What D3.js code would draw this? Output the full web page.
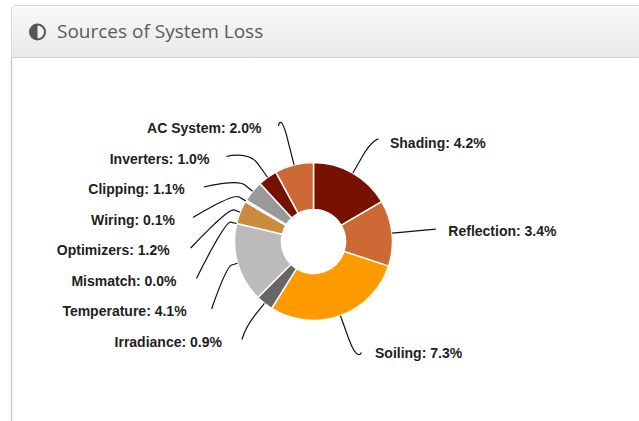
<!DOCTYPE html>
<html><head><meta charset="utf-8">
<script src="https://cdn.jsdelivr.net/npm/d3@7"></script>
<style>html,body{margin:0;padding:0;background:#fff;overflow:hidden}svg{display:block}</style>
</head><body><svg id="c" width="639" height="421"></svg>
<script>
const categories=["Shading","Reflection","Soiling","Irradiance","Temperature","Mismatch","Optimizers","Wiring","Clipping","Inverters","AC System"];
const lossValues=[4.2,3.4,7.3,0.9,4.1,0.0,1.2,0.1,1.1,1.0,2.0];
const sliceColors=["#771200","#cc6935","#ff9b00","#666666","#bbbbbb","#ffc85a","#cc8b3c","#ffc85a","#999999","#771200","#cc6935"];
const titleText="Sources of System Loss";

const svg=d3.select("#c");
const defs=svg.append("defs");
const g=defs.append("linearGradient").attr("id","hd").attr("x1",0).attr("x2",0).attr("y1",0).attr("y2",1);
g.append("stop").attr("offset",0).attr("stop-color","#f9f9f9");
g.append("stop").attr("offset",1).attr("stop-color","#e9e9e9");

// panel
svg.append("path").attr("d","M11.5,421V10a4.5,4.5 0 0 1 4.5,-4.5H640").attr("fill","none").attr("stroke","#d8d8d8");
svg.append("path").attr("d","M12,57V10a4,4 0 0 1 4,-4H640V57Z").attr("fill","url(#hd)");
svg.append("line").attr("x1",12).attr("x2",639).attr("y1",57.5).attr("y2",57.5).attr("stroke","#cfcfcf");
svg.append("line").attr("x1",11.5).attr("x2",11.5).attr("y1",57).attr("y2",421).attr("stroke","#cccccc").attr("stroke-width",1.5);
// icon
const ic=svg.append("g").attr("transform","translate(37.5,32)");
ic.append("circle").attr("r",8.5).attr("fill","#555");
ic.append("path").attr("d",d3.arc()({innerRadius:0,outerRadius:6.5,startAngle:0,endAngle:Math.PI})).attr("fill","#f2f2f2");
svg.append("text").attr("x",57).attr("y",38).attr("font-family","'Open Sans'").attr("font-size",19).attr("fill","#5a5a5a").text(titleText);

// donut
const cx=313.5,cy=241.5,R=79,r0=32;
const pie=d3.pie().sort(null).value(d=>d)(lossValues);
const arc=d3.arc().innerRadius(r0).outerRadius(R);
const chart=svg.append("g").attr("transform",`translate(${cx},${cy})`);
chart.selectAll("path.s").data(pie).join("path").attr("class","s").attr("d",arc)
  .attr("fill",(d,i)=>sliceColors[i]).attr("stroke","#fff").attr("stroke-width",1.5).attr("stroke-linejoin","round")
  .filter(d=>d.value===0).attr("stroke","none");

// labels & connectors
const polar=(a,rad)=>[Math.sin(a)*rad,-Math.cos(a)*rad];
const circA=123,circB=120.5,rightYR=118;
const labelNudge=[-1,0,1,-1,-6,-1,-2,1,0,2,2];
const labelNudgeY=[2,0,-1,0,0,0,0,0,0,0,0];
const leftIdx=pie.map((d,i)=>i).filter(i=>(pie[i].startAngle+pie[i].endAngle)/2>Math.PI);
const rowTop=-115.5,rowStep=30.5;
const layer=svg.append("g").attr("transform",`translate(${cx},${cy})`);
pie.forEach((d,i)=>{
  const a=(d.startAngle+d.endAngle)/2, left=a>Math.PI;
  const y=left? rowTop+rowStep*(leftIdx.length-1-leftIdx.indexOf(i)) : -Math.cos(a)*rightYR;
  const x=(left?-1:1)*circA*Math.sqrt(Math.max(0,1-y*y/(circB*circB)));
  const breakR=R+6+24*Math.pow(Math.abs(Math.cos(a)),4);
  const t=polar(a,R), b=polar(a,breakR);
  const c2=[2*b[0]-t[0],2*b[1]-t[1]];
  const start=[x,y];
  layer.append("path").attr("fill","none").attr("stroke","#111").attr("stroke-width",1.2)
    .attr("d",`M${start}C${start} ${c2} ${b}L${t}`);
  layer.append("text").attr("x",x+(left?-19:12.5)+labelNudge[i]).attr("y",y+7+labelNudgeY[i])
    .attr("text-anchor",left?"end":"start").attr("font-family","'Liberation Sans'").attr("font-weight","bold")
    .attr("font-size",14).attr("fill","#1e1e1e").text(`${categories[i]}: ${d3.format(".1f")(d.value)}%`);
});
</script></body></html>
